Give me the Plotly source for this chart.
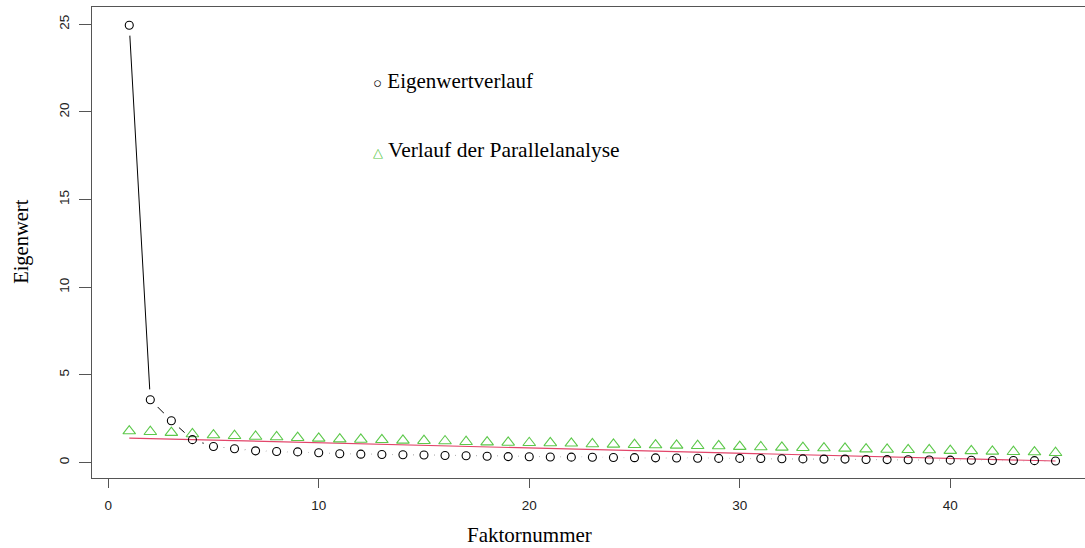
import plotly.graph_objects as go

# ---- data ----
factor = list(range(1, 46))
eigen = [24.95, 3.58, 2.38, 1.30, 0.91, 0.78, 0.66, 0.62, 0.60, 0.55,
         0.49, 0.47, 0.45, 0.44, 0.42, 0.39, 0.38, 0.35, 0.33, 0.32,
         0.31, 0.30, 0.29, 0.28, 0.27, 0.26, 0.25, 0.24, 0.23, 0.23,
         0.22, 0.21, 0.20, 0.19, 0.19, 0.17, 0.16, 0.15, 0.14, 0.13,
         0.12, 0.11, 0.11, 0.10, 0.08]
parallel = [1.79, 1.75, 1.70, 1.62, 1.56, 1.52, 1.48, 1.45, 1.41, 1.37,
            1.33, 1.31, 1.29, 1.26, 1.24, 1.22, 1.18, 1.16, 1.14, 1.12,
            1.11, 1.09, 1.05, 1.03, 1.01, 0.99, 0.97, 0.95, 0.94, 0.90,
            0.88, 0.86, 0.84, 0.82, 0.80, 0.76, 0.74, 0.72, 0.71, 0.67,
            0.66, 0.63, 0.61, 0.59, 0.55]
trend_x = [1, 45]
trend_y = [1.39, 0.08]
x_ticks = [0, 10, 20, 30, 40]
y_ticks = [0, 5, 10, 15, 20, 25]
legend_labels = ["Eigenwertverlauf", "Verlauf der Parallelanalyse"]

GREEN = "#5cc84a"
RED = "#e2456a"
SERIF = "Liberation Serif, Times New Roman, serif"
SANS = "Liberation Sans, Arial, sans-serif"

fig = go.Figure()
# connecting line (type="b")
fig.add_trace(go.Scatter(x=factor, y=eigen, mode="lines",
                         line=dict(color="black", width=1), hoverinfo="skip"))
# white gaps around points
fig.add_trace(go.Scatter(x=factor, y=eigen, mode="markers",
                         marker=dict(symbol="circle", size=21, color="white",
                                     line=dict(width=0)), hoverinfo="skip"))
fig.add_trace(go.Scatter(x=trend_x, y=trend_y, mode="lines",
                         line=dict(color=RED, width=1.2)))
fig.add_trace(go.Scatter(x=factor, y=parallel, mode="markers",
                         marker=dict(symbol="triangle-up-open", size=11, color=GREEN,
                                     line=dict(width=1.1, color=GREEN))))
fig.add_trace(go.Scatter(x=factor, y=eigen, mode="markers",
                         marker=dict(symbol="circle-open", size=8, color="black",
                                     line=dict(width=1.1, color="black"))))

annotations = [
    dict(x=12.5, y=21.79, xref="x", yref="y", xanchor="left", yanchor="middle",
         text="<span style='font-size:15px;color:#000000'>○</span> " + legend_labels[0],
         showarrow=False, font=dict(family=SERIF, size=21, color="black")),
    dict(x=12.5, y=17.84, xref="x", yref="y", xanchor="left", yanchor="middle",
         text="<span style='font-size:13px;color:%s'>△</span> " % GREEN + legend_labels[1],
         showarrow=False, font=dict(family=SERIF, size=21.5, color="black")),
    dict(x=-0.0712, y=0.502, xref="paper", yref="paper", textangle=-90,
         text="Eigenwert", showarrow=False, xanchor="center", yanchor="middle",
         font=dict(family=SERIF, size=20.5, color="black")),
    dict(x=0.441, y=-0.122, xref="paper", yref="paper",
         text="Faktornummer", showarrow=False, xanchor="center", yanchor="middle",
         font=dict(family=SERIF, size=21, color="black")),
]

fig.update_layout(
    width=1085, height=548,
    margin=dict(l=92, r=0, t=7, b=70),
    paper_bgcolor="white", plot_bgcolor="white",
    showlegend=False,
    annotations=annotations,
    xaxis=dict(range=[-0.77, 46.40], tickvals=x_ticks, showgrid=False, zeroline=False,
               showline=True, mirror=True, linecolor="#555", linewidth=1,
               ticks="outside", ticklen=9, tickcolor="#555", ticklabelstandoff=6,
               tickfont=dict(family=SANS, size=13.5, color="#222")),
    yaxis=dict(range=[-0.89, 25.99], tickvals=y_ticks, showgrid=False, zeroline=False,
               showline=True, mirror=False, linecolor="#555", linewidth=1,
               ticks="outside", ticklen=12, tickcolor="#555", tickangle=-90,
               ticklabelstandoff=5,
               tickfont=dict(family=SANS, size=13.5, color="#222")),
)

fig.write_html("out.html", config={"displayModeBar": False},
               post_script="document.body.style.margin='0';document.body.style.overflow='hidden';")
